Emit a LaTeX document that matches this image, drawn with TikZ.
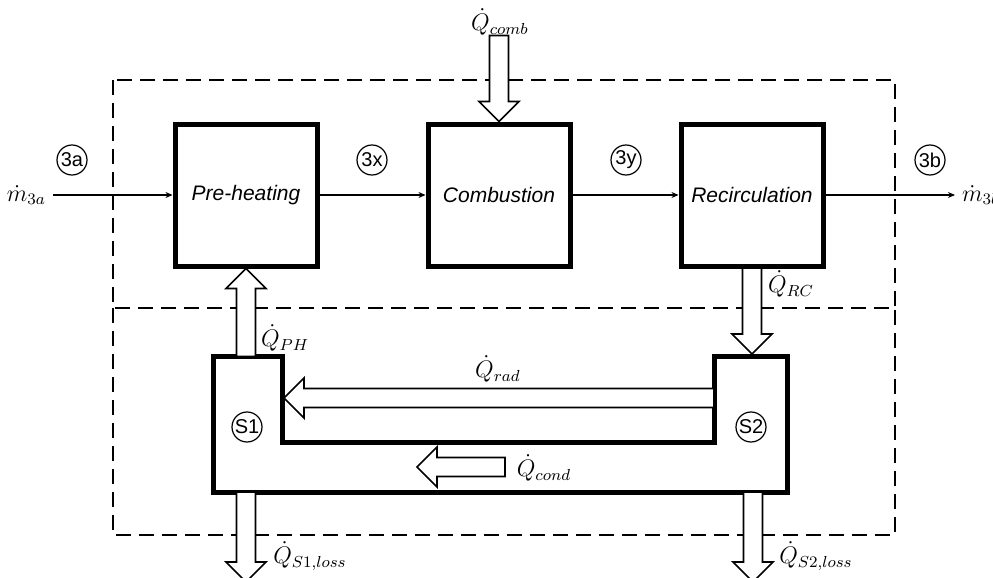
\documentclass[tikz,border=0pt]{standalone}
\usepackage{amsmath}
\usepackage{fontspec}
\newfontfamily\arialfont{Liberation Sans}
\usetikzlibrary{arrows.meta,positioning}

\begin{document}
\begin{tikzpicture}[
  x=0.5pt, y=-0.5pt,
  node distance=53pt,
  block/.style={draw, line width=2.5pt, minimum width=71pt, minimum height=71pt, inner sep=0pt, font=\arialfont\itshape\fontsize{10.5}{12}\selectfont},
  stream/.style={draw, circle, line width=0.6pt, minimum size=15pt, inner sep=0pt, font=\arialfont\fontsize{10}{11}\selectfont},
  lbl/.style={font=\fontsize{11.5}{13}\selectfont},
  flow/.style={-{Stealth[length=3.5pt,width=3pt]}, line width=0.9pt},
  bound/.style={line width=1pt, dash pattern=on 7.5pt off 4pt},
  hollow/.style={draw, line width=0.8pt, fill=white},
  pics/heat/.style={code={
    \draw[hollow] (0,0) -- (-20,-20) -- (-20,-9.5) -- (-#1,-9.5) -- (-#1,9.5) -- (-20,9.5) -- (-20,20) -- cycle;
  }},
]
  \useasboundingbox (0,0) rectangle (993,578);

  % control volumes
  \draw[bound] (113,80) rectangle (895,308);
  \draw[bound] (113,308) rectangle (895,535);

  % process blocks
  \node[block] (preheat) at (246,195) {Pre-heating};
  \node[block, right=of preheat] (comb) {Combustion};
  \node[block, right=of comb] (recirc) {Recirculation};

  \node[lbl, anchor=east] (m3a) at (53,195) {$\dot{m}_{3a}$};
  \node[lbl, anchor=west] (m3b) at (955,195) {$\dot{m}_{3b}$};

  \draw[flow] (m3a.east) -- (preheat.west);
  \draw[flow] (preheat) -- (comb);
  \draw[flow] (comb) -- (recirc);
  \draw[flow] (recirc.east) -- (m3b.west);

  \node[stream] (c3a) at (72,160) {3a};
  \node[stream] (c3x) at (372,160) {3x};
  \node[stream] (c3y) at (626,160) {3y};
  \node[stream] (c3b) at (930,160) {3b};

  % solid body S1 -- S2
  \draw[line width=2.5pt] (213,356) -- (282,356) -- (282,442) -- (714,442) -- (714,356)
    -- (787,356) -- (787,492) -- (213,492) -- cycle;
  \node[stream] (s1) at (247,427) {S1};
  \node[stream] (s2) at (751,427) {S2};

  % heat flows
  \pic[rotate=-90] at (comb.north) {heat=86};
  \pic[rotate=90] at (preheat.south) {heat=88};
  \coordinate (s2in) at (recirc.south |- 0,354);
  \pic[rotate=-90] at (s2in) {heat=86};
  \pic[rotate=180] at (284,398) {heat=430};
  \pic[rotate=180] at (417,467) {heat=88};
  \pic[rotate=-90] at (246,582) {heat=90};
  \pic[rotate=-90] at (753,582) {heat=90};

  \node[lbl] (qcomb) at (500,22) {$\dot{Q}_{comb}$};
  \node[lbl] (qph) at (285,338) {$\dot{Q}_{PH}$};
  \node[lbl] (qrc) at (791,284) {$\dot{Q}_{RC}$};
  \node[lbl] (qrad) at (498,369) {$\dot{Q}_{rad}$};
  \node[lbl] (qcond) at (544,468) {$\dot{Q}_{cond}$};
  \node[lbl] (qs1) at (310,556) {$\dot{Q}_{S1,loss}$};
  \node[lbl] (qs2) at (816,556) {$\dot{Q}_{S2,loss}$};
\end{tikzpicture}
\end{document}
